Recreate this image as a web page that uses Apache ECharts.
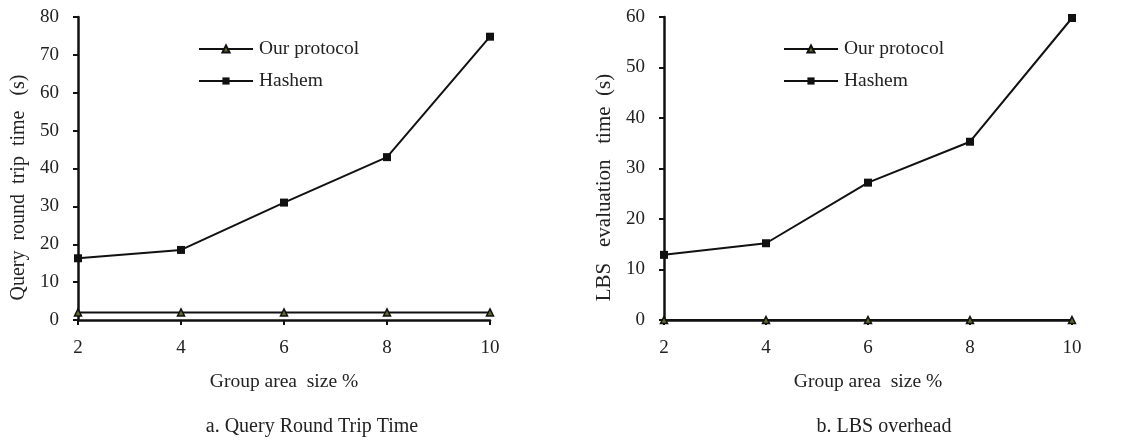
<!DOCTYPE html>
<html>
<head>
<meta charset="UTF-8">
<title>Query Round Trip Time / LBS overhead</title>
<script src="https://cdn.jsdelivr.net/npm/echarts@6/dist/echarts.min.js"></script>
<style>
    html, body { margin: 0; padding: 0; background: #fff; }
    #chart { width: 1127px; height: 441px; }
</style>
</head>
<body>
<div id="chart"></div>
<script>
    // data
    const groupSizes = [2, 4, 6, 8, 10];
    const rttOurs = [2, 2, 2, 2, 2];
    const rttHashem = [16.3, 18.5, 31.0, 43.0, 74.8];
    const lbsOurs = [0, 0, 0, 0, 0];
    const lbsHashem = [12.9, 15.2, 27.2, 35.3, 59.8];

    const font = 'Liberation Serif';
    const ink = '#222';

    function pairs(ys) {
        return groupSizes.map((x, i) => [x, ys[i]]);
    }

    function xAxisFor(idx) {
        return {
            type: 'value', gridIndex: idx, min: 2, max: 10, interval: 2,
            name: 'Group area  size %', nameLocation: 'middle', nameGap: 52,
            nameTextStyle: { fontFamily: font, fontSize: 19.5, color: ink },
            axisLine: { lineStyle: { color: '#111', width: 2.5 } },
            axisTick: { show: true, length: 5, lineStyle: { color: '#111', width: 2 } },
            axisLabel: { fontFamily: font, fontSize: 19, color: ink, margin: 19 },
            splitLine: { show: false }
        };
    }

    function yAxisFor(idx, max, name, size) {
        return {
            type: 'value', gridIndex: idx, min: 0, max: max, interval: 10,
            name: name, nameLocation: 'middle', nameGap: 49,
            // extra right padding pushes the rotated title down, as in the figure
            nameTextStyle: { fontFamily: font, fontSize: size, color: ink, padding: [0, 38, 0, 0] },
            axisLine: { show: true, lineStyle: { color: '#111', width: 2.5 } },
            axisTick: { show: true, length: 5, lineStyle: { color: '#111', width: 2 } },
            axisLabel: { fontFamily: font, fontSize: 19, color: ink, margin: 19 },
            splitLine: { show: false }
        };
    }

    function oursSeries(idx, ys) {
        return {
            name: 'Our protocol', type: 'line', xAxisIndex: idx, yAxisIndex: idx,
            data: pairs(ys), symbol: 'triangle', symbolSize: 7,
            lineStyle: { color: '#111', width: 2 },
            itemStyle: { color: '#5a6b2a', borderColor: '#111', borderWidth: 1.5 },
            z: 3
        };
    }

    function hashemSeries(idx, ys) {
        return {
            name: 'Hashem', type: 'line', xAxisIndex: idx, yAxisIndex: idx,
            data: pairs(ys), symbol: 'rect', symbolSize: 8,
            lineStyle: { color: '#111', width: 2 },
            itemStyle: { color: '#111' },
            z: 3
        };
    }

    function legendAt(left) {
        return {
            orient: 'vertical', left: left, top: 39, padding: 0, itemGap: 12,
            itemWidth: 54, itemHeight: 9,
            data: ['Our protocol', 'Hashem'],
            textStyle: { fontFamily: font, fontSize: 19.5, color: ink, padding: [0, 0, 0, 1] }
        };
    }

    const chart = echarts.init(document.getElementById('chart'));
    chart.setOption({
        animation: false,
        backgroundColor: '#fff',
        title: [
            { text: 'a. Query Round Trip Time', left: 312, top: 417, padding: 0, textAlign: 'center',
              textStyle: { fontFamily: font, fontSize: 20, fontWeight: 'normal', color: ink } },
            { text: 'b. LBS overhead', left: 884, top: 417, padding: 0, textAlign: 'center',
              textStyle: { fontFamily: font, fontSize: 20, fontWeight: 'normal', color: ink } }
        ],
        legend: [legendAt(198), legendAt(783)],
        grid: [
            { left: 78, right: 637, top: 17, bottom: 121 },
            { left: 664, right: 55, top: 17, bottom: 121 }
        ],
        xAxis: [xAxisFor(0), xAxisFor(1)],
        yAxis: [
            yAxisFor(0, 80, 'Query  round  trip  time   (s)', 20),
            yAxisFor(1, 60, 'LBS   evaluation   time  (s)', 21)
        ],
        series: [
            oursSeries(0, rttOurs),
            hashemSeries(0, rttHashem),
            oursSeries(1, lbsOurs),
            hashemSeries(1, lbsHashem)
        ]
    });
</script>
</body>
</html>
